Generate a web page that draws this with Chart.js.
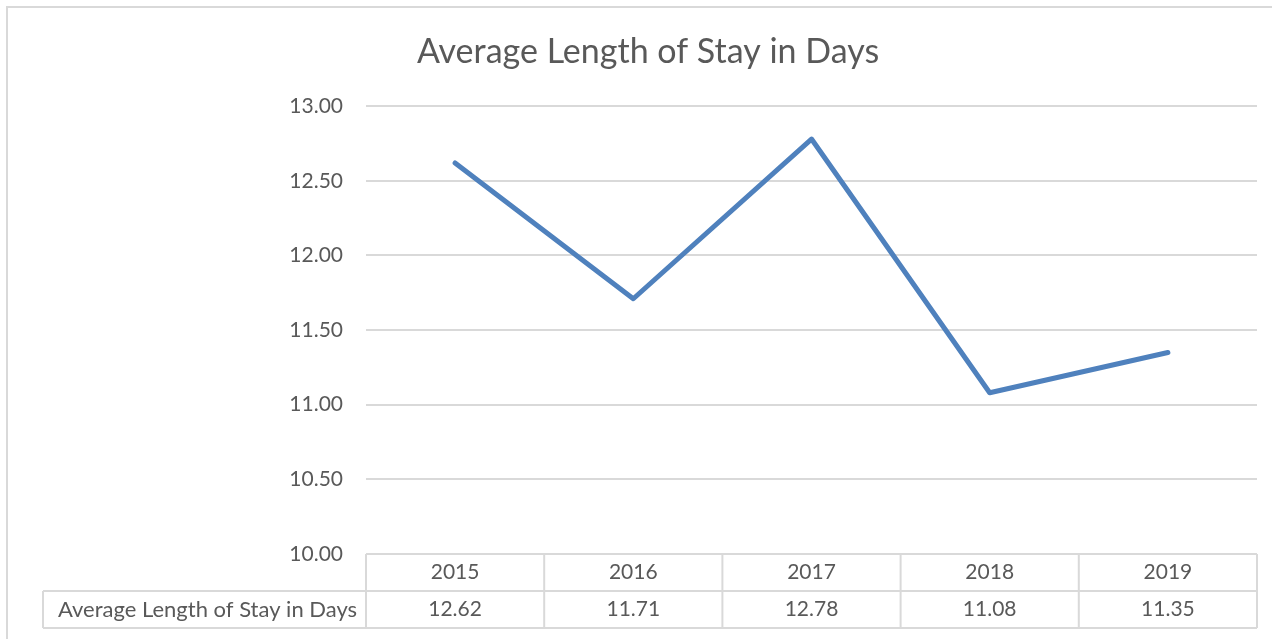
<!DOCTYPE html>
<html>
<head>
<meta charset="utf-8">
<script src="https://cdn.jsdelivr.net/npm/chart.js@4.4.0/dist/chart.umd.min.js"></script>
<style>
    html, body {margin: 0; padding: 0; background: #fff;}
    #wrap {width: 1272px; height: 639px;}
</style>
</head>
<body>
<div id="wrap"><canvas id="chart" width="1272" height="639"></canvas></div>
<script>
const years = ["2015", "2016", "2017", "2018", "2019"];
const stayDays = [12.62, 11.71, 12.78, 11.08, 11.35];
const seriesName = "Average Length of Stay in Days";
const yTicks = [10, 10.5, 11, 11.5, 12, 12.5, 13];

const gridColor = "#d9d9d9";
const textColor = "#595959";
const fontFamily = "Lato, 'Open Sans', sans-serif";

// outer frame + excel style data table under the plot
const tablePlugin = {
    id: "dataTable",
    afterDraw(chart) {
        const ctx = chart.ctx;
        const x = chart.scales.x;
        const area = chart.chartArea;
        const rowH = 37;
        const top = area.bottom;
        const mid = top + rowH;
        const bot = mid + rowH;
        const labelLeft = 43;
        const n = years.length;
        const colW = (area.right - area.left) / n;

        ctx.save();
        ctx.strokeStyle = gridColor;
        ctx.lineWidth = 2;
        ctx.strokeRect(7, 7, 1270, 640);

        ctx.beginPath();
        ctx.moveTo(area.left, top);
        ctx.lineTo(area.right, top);
        ctx.moveTo(labelLeft, mid);
        ctx.lineTo(area.right, mid);
        ctx.moveTo(labelLeft, bot);
        ctx.lineTo(area.right, bot);
        ctx.moveTo(labelLeft, mid);
        ctx.lineTo(labelLeft, bot);
        for (let i = 0; i <= n; i++) {
            const xx = area.left + i * colW;
            ctx.moveTo(xx, top);
            ctx.lineTo(xx, bot);
        }
        ctx.stroke();

        ctx.fillStyle = textColor;
        ctx.textBaseline = "middle";
        ctx.textAlign = "left";
        ctx.font = "22px " + fontFamily;
        ctx.fillText(seriesName, 58, mid + rowH / 2);
        ctx.textAlign = "center";
        ctx.font = "21px " + fontFamily;
        for (let i = 0; i < n; i++) {
            const cx = x.getPixelForValue(i);
            ctx.fillText(years[i], cx, top + rowH / 2);
            ctx.fillText(stayDays[i].toFixed(2), cx, mid + rowH / 2);
        }
        ctx.restore();
    }
};

new Chart(document.getElementById("chart"), {
    type: "line",
    data: {
        labels: years,
        datasets: [{
            label: seriesName,
            data: stayDays,
            borderColor: "#4f81bd",
            borderWidth: 5,
            borderJoinStyle: "round",
            borderCapStyle: "round",
            pointRadius: 0,
            tension: 0,
            fill: false
        }]
    },
    options: {
        responsive: false,
        animation: false,
        layout: {padding: {left: 39, right: 15, top: 0, bottom: 85}},
        plugins: {
            legend: {display: false},
            tooltip: {enabled: false},
            title: {
                display: true,
                text: "Average Length of Stay in Days",
                color: textColor,
                font: {family: fontFamily, size: 34, weight: "normal"},
                padding: {top: 32, bottom: 33.4}
            }
        },
        scales: {
            x: {
                display: false,
                offset: true
            },
            y: {
                min: 10,
                max: 13,
                afterBuildTicks: (s) => { s.ticks = yTicks.map(v => ({value: v})); },
                afterFit: (s) => { s.width = 327; },
                border: {display: false},
                grid: {color: gridColor, lineWidth: 2, drawTicks: false},
                ticks: {
                    color: textColor,
                    padding: 23,
                    font: {family: fontFamily, size: 21},
                    callback: (v) => Number(v).toFixed(2)
                }
            }
        }
    },
    plugins: [tablePlugin]
});
</script>
</body>
</html>
